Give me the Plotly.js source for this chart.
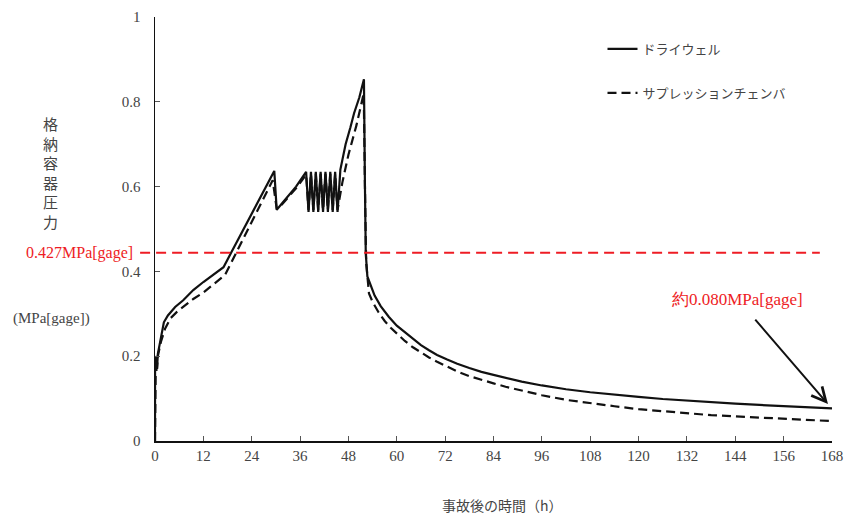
<!DOCTYPE html>
<html>
<head>
<meta charset="utf-8">
<script src="https://cdn.plot.ly/plotly-3.0.1.min.js"></script>
<style>html,body{margin:0;padding:0;background:#fff;}#chart{width:847px;height:515px;}</style>
</head>
<body>
<div id="chart"></div>
<script>
// Time after accident (h)
const dwTime = [0, 0.02, 0.1, 0.2, 0.3, 0.4, 0.5, 0.7, 1.5, 2.2, 3.2, 5, 7, 9.5, 12, 15, 17, 29.6, 30.2, 31.5, 33, 35, 37.5,
  38.1, 38.7, 39.3, 39.9, 40.5, 41.1, 41.7, 42.3, 42.9, 43.5, 44.1, 44.7, 45.3,
  46, 47.3, 48.5, 49.4, 50.7, 51.85, 52.1, 52.3, 52.7, 53.5, 54.5, 56, 58, 60, 62, 64, 66, 68, 70, 72.5, 75, 78, 81, 84, 87, 91, 96, 102, 108, 114, 120, 126, 132, 138, 144, 150, 156, 162, 168];
// Drywell pressure (MPa[gage])
const dwPress = [0, 0.2, 0.16, 0.195, 0.165, 0.2, 0.17, 0.205, 0.25, 0.28, 0.296, 0.316, 0.332, 0.356, 0.375, 0.395, 0.41, 0.637, 0.545, 0.56, 0.578, 0.6, 0.635,
  0.54, 0.635, 0.54, 0.635, 0.54, 0.635, 0.54, 0.635, 0.54, 0.635, 0.54, 0.635, 0.54,
  0.64, 0.70, 0.74, 0.773, 0.81, 0.853, 0.6, 0.443, 0.388, 0.366, 0.343, 0.318, 0.293, 0.272, 0.256, 0.24, 0.226, 0.214, 0.203, 0.192, 0.182, 0.172, 0.163, 0.156, 0.149, 0.14, 0.131, 0.122, 0.115, 0.109, 0.104, 0.099, 0.095, 0.091, 0.088, 0.085, 0.082, 0.0795, 0.077];
const spTime = [0, 0.02, 0.1, 0.2, 0.3, 0.4, 0.5, 0.7, 1.5, 2.5, 3.9, 5.5, 7, 9.5, 12, 15, 17.4, 29.2, 30.2, 31.5, 33, 35, 37.5,
  38.1, 38.7, 39.3, 39.9, 40.5, 41.1, 41.7, 42.3, 42.9, 43.5, 44.1, 44.7, 45.3,
  46.5, 48, 50, 51.8, 52.1, 52.4, 53.1, 54, 55.5, 57, 58.5, 60, 62, 64, 66, 68, 70, 72.5, 75, 78, 81, 84, 87, 91, 96, 102, 108, 114, 120, 126, 132, 138, 144, 150, 156, 162, 168];
// Suppression chamber pressure (MPa[gage])
const spPress = [0, 0.19, 0.16, 0.19, 0.165, 0.195, 0.17, 0.2, 0.235, 0.265, 0.29, 0.305, 0.317, 0.335, 0.35, 0.373, 0.392, 0.615, 0.548, 0.558, 0.575, 0.596, 0.628,
  0.545, 0.63, 0.545, 0.63, 0.545, 0.63, 0.545, 0.63, 0.545, 0.63, 0.545, 0.63, 0.545,
  0.61, 0.675, 0.745, 0.82, 0.6, 0.42, 0.348, 0.328, 0.303, 0.283, 0.267, 0.253, 0.236, 0.221, 0.208, 0.197, 0.187, 0.175, 0.164, 0.153, 0.144, 0.136, 0.128, 0.119, 0.108, 0.097, 0.089, 0.082, 0.075, 0.07, 0.065, 0.061, 0.058, 0.055, 0.052, 0.049, 0.047];

const xTicks = [0, 12, 24, 36, 48, 60, 72, 84, 96, 108, 120, 132, 144, 156, 168];
const yTicks = [0, 0.2, 0.4, 0.6, 0.8, 1];
const yTickText = ['0', '0.2', '0.4', '0.6', '0.8', '1'];
const limitValue = 0.444;   // drawn position of the limit line
const limitLabel = '0.427MPa[gage]';
const endLabel = '約0.080MPa[gage]';
const endPoint = [167, 0.087];
const seriesNames = ['ドライウェル', 'サプレッションチェンバ'];

const jp = '"Noto Sans CJK JP", sans-serif';
const num = '"Liberation Serif", serif';

const traces = [
  {x: dwTime, y: dwPress, type: 'scatter', mode: 'lines', name: seriesNames[0], legendgroup: 'a',
   line: {color: '#111', width: 2.2}},
  {x: spTime, y: spPress, type: 'scatter', mode: 'lines', name: seriesNames[1], legendgroup: 'b',
   line: {color: '#111', width: 2.2, dash: '9px,5px'}}
];

const layout = {
  width: 847, height: 515,
  margin: {l: 155, r: 15, t: 17, b: 74},
  paper_bgcolor: '#fff', plot_bgcolor: '#fff',
  showlegend: true,
  legend: {x: 0.661, y: 0.96, xanchor: 'left', yanchor: 'top', tracegroupgap: 24,
    font: {family: jp, size: 13, color: '#444'}, bgcolor: 'rgba(0,0,0,0)'},
  xaxis: {range: [0, 168], tickvals: xTicks, ticktext: xTicks.map(String), ticks: 'inside', ticklen: 5,
    tickcolor: '#555', showline: true, linecolor: '#111', linewidth: 1.5, showgrid: false, zeroline: false,
    tickfont: {family: num, size: 15, color: '#444'}},
  yaxis: {range: [0, 1], tickvals: yTicks, ticktext: yTickText, ticks: 'inside', ticklen: 5,
    tickcolor: '#555', showline: true, linecolor: '#111', linewidth: 1.5, showgrid: false, zeroline: false,
    ticklabelstandoff: 10,
    tickfont: {family: num, size: 15, color: '#444'}},
  shapes: [
    {type: 'line', xref: 'paper', yref: 'y', x0: -0.022, x1: 0.982, y0: limitValue, y1: limitValue,
     line: {color: '#ee1c24', width: 2, dash: '10px,6px'}}
  ],
  annotations: [
    {xref: 'paper', yref: 'y', x: -0.029, y: limitValue, xanchor: 'right', yanchor: 'middle', showarrow: false,
     text: limitLabel, font: {family: num, size: 16, color: '#ee1c24'}},
    {xref: 'x', yref: 'y', x: endPoint[0], y: endPoint[1], ax: -74, ay: -86, text: '', showarrow: true,
     arrowhead: 5, arrowsize: 1.4, arrowwidth: 2, arrowcolor: '#111'},
    {xref: 'x', yref: 'paper', x: 144.5, y: (441 - 299) / 424, xanchor: 'center', yanchor: 'middle', showarrow: false,
     text: endLabel, font: {family: num, size: 17, color: '#ee1c24'}},
    {xref: 'paper', yref: 'paper', x: (50 - 155) / 677, y: (441 - 172) / 424, xanchor: 'center', yanchor: 'middle',
     showarrow: false, text: '格<br>納<br>容<br>器<br>圧<br>力', font: {family: jp, size: 15, color: '#444'}},
    {xref: 'paper', yref: 'paper', x: (52 - 155) / 677, y: (441 - 318) / 424, xanchor: 'center', yanchor: 'middle',
     showarrow: false, text: '(MPa[gage])', font: {family: num, size: 15, color: '#444'}},
    {xref: 'paper', yref: 'paper', x: (502 - 155) / 677, y: (441 - 505) / 424, xanchor: 'center', yanchor: 'middle',
     showarrow: false, text: '事故後の時間（h）', font: {family: jp, size: 14, color: '#444'}}
  ]
};

Plotly.newPlot('chart', traces, layout, {displayModeBar: false, staticPlot: true});
</script>
</body>
</html>
